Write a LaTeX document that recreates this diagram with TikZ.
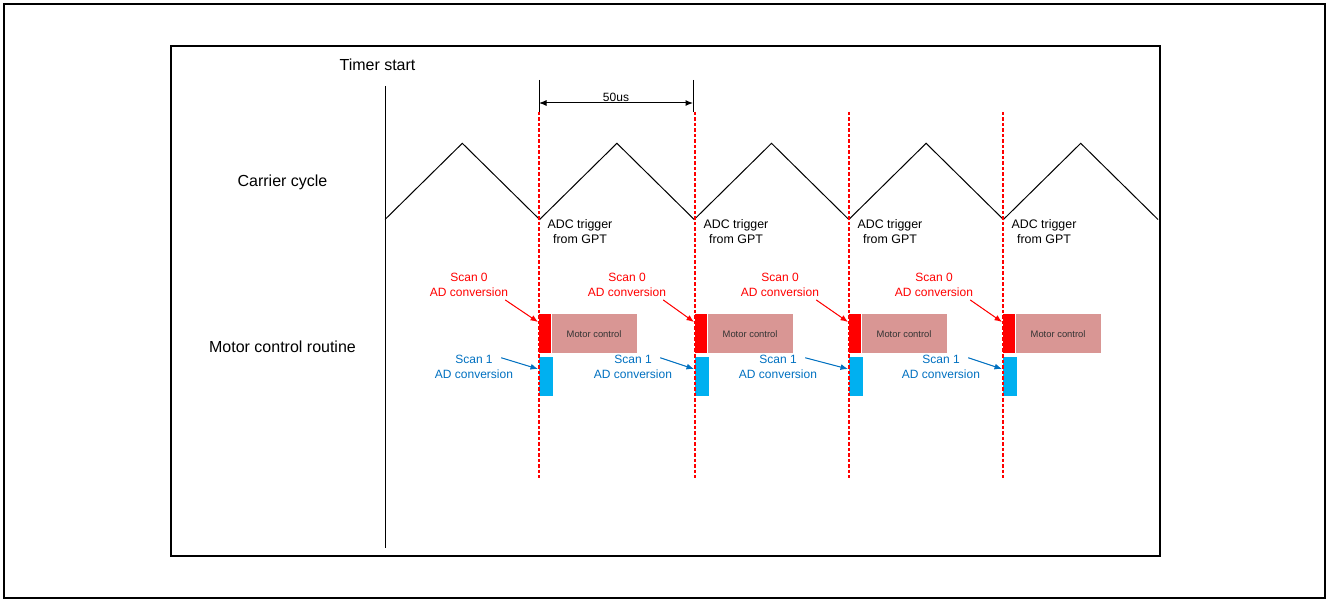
\documentclass[tikz,border=0pt]{standalone}
\usepackage{fontspec}
\setmainfont{Liberation Sans}
\usetikzlibrary{shapes,arrows.meta}
\definecolor{scanred}{RGB}{255,0,0}
\definecolor{scanblue}{RGB}{0,112,192}
\definecolor{boxblue}{RGB}{0,176,240}
\definecolor{mcpink}{RGB}{217,150,148}

\begin{document}
\begin{tikzpicture}[x=1pt,y=-1pt,
    label_main/.style ={font=\fontsize{16}{19}\selectfont, inner sep=0pt},
    label_trig/.style ={font=\fontsize{12.4}{15}\selectfont, align=center, inner sep=0pt},
    label_scan0/.style ={font=\fontsize{12}{15}\selectfont, align=center, text=scanred, inner sep=1pt},
    label_scan1/.style ={font=\fontsize{12}{15}\selectfont, align=center, text=scanblue, inner sep=1pt},
    block_red/.style ={rectangle, fill=scanred, minimum width=12pt, minimum height=39pt, inner sep=0pt},
    block_blue/.style ={rectangle, fill=boxblue, minimum width=14pt, minimum height=39pt, inner sep=0pt},
    block_mc/.style ={rectangle, fill=mcpink, minimum width=85pt, minimum height=39pt, inner sep=0pt,
      font=\fontsize{9.4}{11}\selectfont, text=black!80},
    frame/.style ={draw=black, line width=1.8pt},
    trig_line/.style ={draw=red, line width=1.1pt, dash pattern=on 3.5pt off 2pt},
    wave/.style ={draw=black, line width=1pt},
    line/.style ={draw, line width=1pt, -{Latex[length=7.5pt,width=6pt]}, shorten >=0pt}]
    \useasboundingbox (0,0) rectangle (1327,601);
    % outer and inner frames
    \draw[frame] (4,4) rectangle (1325,598);
    \draw[frame, line width=2pt] (171,46) rectangle (1160,556);
    % row labels
    \node[label_main, anchor=base] (timer) at (377.5,71) {Timer start};
    \node[label_main, anchor=base] (carrier) at (282.5,186.5) {Carrier cycle};
    \node[label_main, anchor=base] (routine) at (282.5,352.7) {Motor control routine};
    % timer start line and carrier wave
    \coordinate (start_top) at (385,86);
    \coordinate (start_bot) at (385,548);
    \draw[wave] (start_top) -- (start_bot);
    \draw[wave] (385,219.5) \foreach \k in {1,...,5} {-- ++(77.3,-76.2) -- ++(77.3,76.2)};
    % period dimension
    \coordinate (dim_left) at (539,103);
    \coordinate (dim_right) at (693,103);
    \draw[line width=1pt] (539,80) -- (539,112);
    \draw[line width=1pt] (693,80) -- (693,112);
    \path[line, {Latex[length=7.5pt,width=6pt]}-{Latex[length=7.5pt,width=6pt]}] (dim_left) -- (dim_right);
    \node[font=\fontsize{12}{14}\selectfont, anchor=base, inner sep=0pt] (period) at (616,101.5) {50us};
    % one column per ADC trigger
    \foreach \i/\x/\sa/\sb in {1/539/469/474, 2/695/627/633, 3/849/780/778, 4/1003/934/941} {
      \node[label_trig] (trig\i) at (\x+41,231.5) {ADC trigger\\from GPT};
      % conversion and control blocks
      \node[block_red, anchor=north west] (red\i) at (\x,314) {};
      \node[block_mc, anchor=north west] (mc\i) at (red\i.north east) {Motor control};
      \node[block_blue, anchor=north west] (blue\i) at (\x,357) {};
      % trigger line over the blocks
      \coordinate (top\i) at (\x,112);
      \coordinate (bot\i) at (\x,478);
      \path[trig_line] (top\i) -- (bot\i);
      % scan labels and their arrows
      \node[label_scan0] (scanA\i) at (\sa,285) {Scan 0\\AD conversion};
      \node[label_scan1] (scanB\i) at (\sb,366.7) {Scan 1\\AD conversion};
      \coordinate (tipA\i) at (\x-1,322);
      \coordinate (tipB\i) at (\x-1,369);
      \path[line, draw=scanred, fill=scanred] ([xshift=-4pt,yshift=-2pt]scanA\i.south east) -- (tipA\i);
      \path[line, draw=scanblue, fill=scanblue] ([xshift=-13pt,yshift=-4pt]scanB\i.north east) -- (tipB\i);
    }
  \end{tikzpicture}
\end{document}
